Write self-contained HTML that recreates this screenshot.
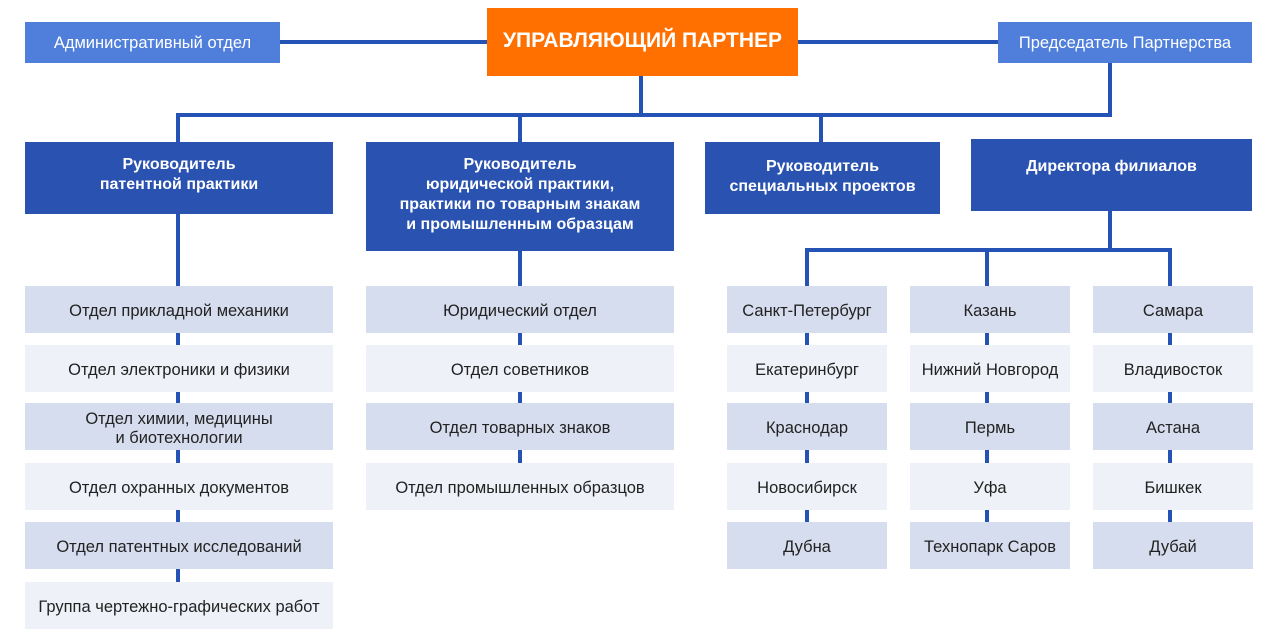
<!DOCTYPE html>
<html><head><meta charset="utf-8"><style>
body{margin:0;width:1280px;height:640px;background:#fff;position:relative;overflow:hidden;font-family:"Liberation Sans",sans-serif}
.b{position:absolute;display:flex;align-items:center;justify-content:center;text-align:center;box-sizing:border-box}
.l{position:absolute;background:#2553b5}
.lt{background:#4f7fdb;color:#fff;font-size:16.5px}
.dk{background:#2a52b0;color:#fff;font-weight:bold;font-size:16px;line-height:20px}
.r1,.r2{color:#222;font-size:16.5px;line-height:19px;padding-top:4px}
.r1{background:#d6ddee}
.r2{background:#eef1f8}
</style></head><body>
<div class="l" style="left:280px;top:40px;width:718px;height:4px"></div>
<div class="l" style="left:639px;top:76px;width:4px;height:41px"></div>
<div class="l" style="left:1108px;top:63px;width:4px;height:54px"></div>
<div class="l" style="left:176px;top:113px;width:936px;height:4px"></div>
<div class="l" style="left:176px;top:113px;width:4px;height:30px"></div>
<div class="l" style="left:518px;top:113px;width:4px;height:30px"></div>
<div class="l" style="left:819px;top:113px;width:4px;height:30px"></div>
<div class="l" style="left:176px;top:214px;width:4px;height:370px"></div>
<div class="l" style="left:518px;top:251px;width:4px;height:214px"></div>
<div class="l" style="left:1108px;top:211px;width:4px;height:41px"></div>
<div class="l" style="left:805px;top:248px;width:367px;height:4px"></div>
<div class="l" style="left:805px;top:248px;width:4px;height:290px"></div>
<div class="l" style="left:985px;top:248px;width:4px;height:290px"></div>
<div class="l" style="left:1168px;top:248px;width:4px;height:290px"></div>

<div class="b lt" style="left:25px;top:22px;width:255px;height:41px;padding-top:2px">Административный отдел</div>
<div class="b" style="left:487px;top:8px;width:311px;height:68px;background:#ff7000;color:#fff;font-weight:bold;font-size:21px;padding-bottom:2px">УПРАВЛЯЮЩИЙ ПАРТНЕР</div>
<div class="b lt" style="left:998px;top:22px;width:254px;height:41px;padding-top:2px">Председатель Партнерства</div>

<div class="b dk" style="left:25px;top:142px;width:308px;height:72px;padding-bottom:6px">Руководитель<br>патентной практики</div>
<div class="b dk" style="left:366px;top:142px;width:308px;height:109px;padding-bottom:4px">Руководитель<br>юридической практики,<br>практики по товарным знакам<br>и промышленным образцам</div>
<div class="b dk" style="left:705px;top:142px;width:235px;height:72px;padding-bottom:2px">Руководитель<br>специальных проектов</div>
<div class="b dk" style="left:971px;top:139px;width:281px;height:72px;padding-bottom:16px">Директора филиалов</div>

<div class="b r1" style="left:25px;top:286px;width:308px;height:47px">Отдел прикладной механики</div>
<div class="b r2" style="left:25px;top:345px;width:308px;height:47px">Отдел электроники и физики</div>
<div class="b r1" style="left:25px;top:403px;width:308px;height:47px">Отдел химии, медицины<br>и биотехнологии</div>
<div class="b r2" style="left:25px;top:463px;width:308px;height:47px">Отдел охранных документов</div>
<div class="b r1" style="left:25px;top:522px;width:308px;height:47px">Отдел патентных исследований</div>
<div class="b r2" style="left:25px;top:582px;width:308px;height:47px">Группа чертежно-графических работ</div>

<div class="b r1" style="left:366px;top:286px;width:308px;height:47px">Юридический отдел</div>
<div class="b r2" style="left:366px;top:345px;width:308px;height:47px">Отдел советников</div>
<div class="b r1" style="left:366px;top:403px;width:308px;height:47px">Отдел товарных знаков</div>
<div class="b r2" style="left:366px;top:463px;width:308px;height:47px">Отдел промышленных образцов</div>

<div class="b r1" style="left:727px;top:286px;width:160px;height:47px">Санкт-Петербург</div>
<div class="b r2" style="left:727px;top:345px;width:160px;height:47px">Екатеринбург</div>
<div class="b r1" style="left:727px;top:403px;width:160px;height:47px">Краснодар</div>
<div class="b r2" style="left:727px;top:463px;width:160px;height:47px">Новосибирск</div>
<div class="b r1" style="left:727px;top:522px;width:160px;height:47px">Дубна</div>

<div class="b r1" style="left:910px;top:286px;width:160px;height:47px">Казань</div>
<div class="b r2" style="left:910px;top:345px;width:160px;height:47px">Нижний Новгород</div>
<div class="b r1" style="left:910px;top:403px;width:160px;height:47px">Пермь</div>
<div class="b r2" style="left:910px;top:463px;width:160px;height:47px">Уфа</div>
<div class="b r1" style="left:910px;top:522px;width:160px;height:47px">Технопарк Саров</div>

<div class="b r1" style="left:1093px;top:286px;width:160px;height:47px">Самара</div>
<div class="b r2" style="left:1093px;top:345px;width:160px;height:47px">Владивосток</div>
<div class="b r1" style="left:1093px;top:403px;width:160px;height:47px">Астана</div>
<div class="b r2" style="left:1093px;top:463px;width:160px;height:47px">Бишкек</div>
<div class="b r1" style="left:1093px;top:522px;width:160px;height:47px">Дубай</div>
</body></html>
